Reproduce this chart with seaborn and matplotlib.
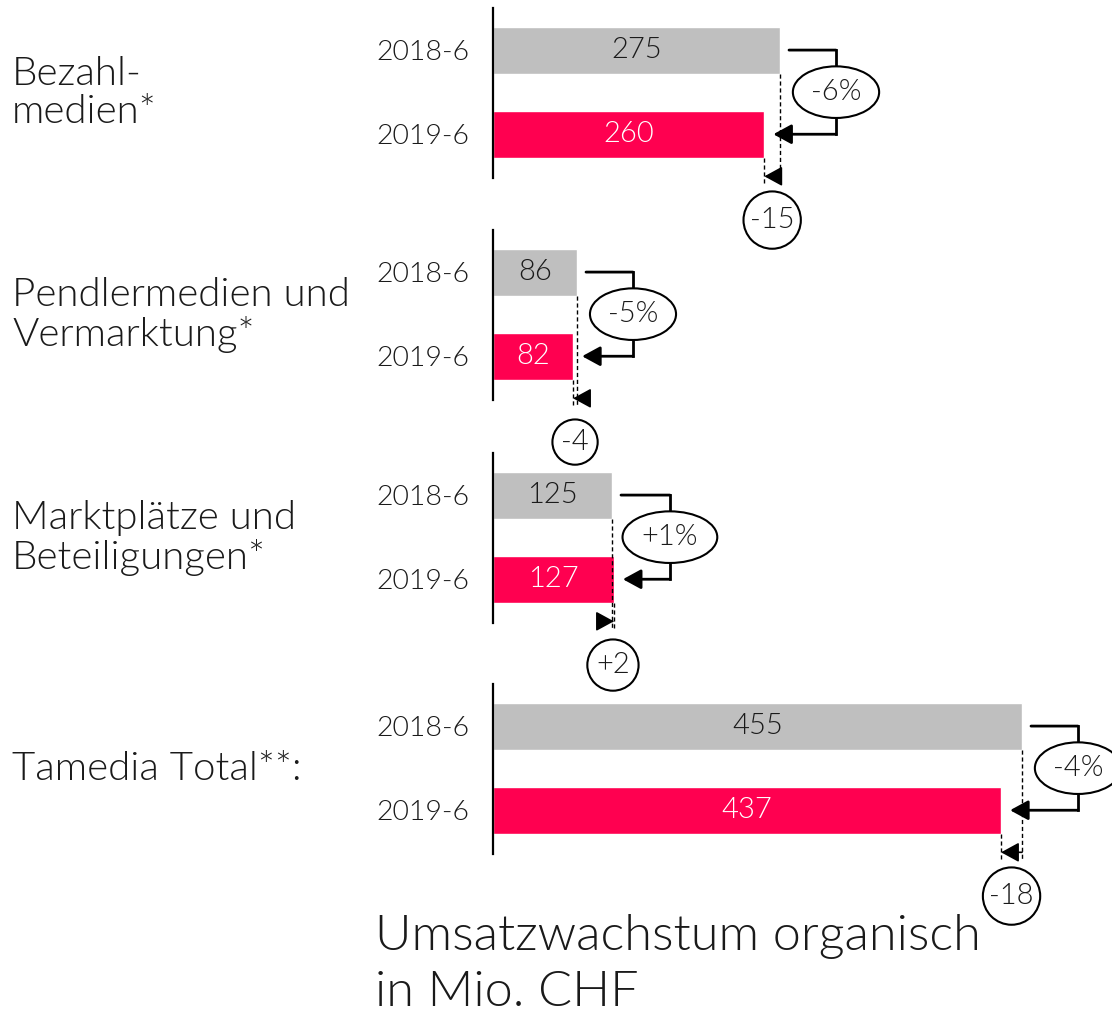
import matplotlib
matplotlib.use("Agg")
import matplotlib.pyplot as plt
from matplotlib.transforms import offset_copy
import seaborn as sns
import pandas as pd

# ---- data ----
groups = ["Bezahl-\nmedien*", "Pendlermedien und\nVermarktung*",
          "Marktplätze und\nBeteiligungen*", "Tamedia Total**:"]
periods = ["2018-6", "2019-6"]
values_2018 = [275, 86, 125, 455]
values_2019 = [260, 82, 127, 437]
pct_labels = ["-6%", "-5%", "+1%", "-4%"]
diff_labels = ["-15", "-4", "+2", "-18"]
title = "Umsatzwachstum organisch\nin Mio. CHF"

# ---- style ----
GRAY = "#BFBFBF"
RED = "#FF0050"
TXT = "#1a1a1a"
FW = 300
sns.set_style("white")
plt.rcParams["font.family"] = ["Lato", "DejaVu Sans"]
plt.rcParams["font.weight"] = FW

W, H = 1112, 1015
fig = plt.figure(figsize=(W / 100, H / 100), dpi=100)

axis_tops = [8, 230, 453, 684]
axis_h = 170
x0 = 493
px_per_unit = [287 / 275, 84 / 86, 119 / 125, 529 / 455]

for i in range(4):
    top = axis_tops[i]
    ax = fig.add_axes([x0 / W, 1 - (top + axis_h) / H, (W - x0) / W, axis_h / H])
    ax.set_facecolor("none")
    df = pd.DataFrame({"period": periods, "value": [values_2018[i], values_2019[i]]})
    sns.barplot(data=df, x="value", y="period", hue="period",
                palette=[GRAY, RED], width=0.56, saturation=1,
                legend=False, ax=ax)
    ax.set_xlim(0, (W - x0) / px_per_unit[i])
    ax.set_ylim(1.52, -0.5)
    ax.set_xlabel("")
    ax.set_ylabel("")
    ax.set_xticks([])
    for s in ["top", "right", "bottom"]:
        ax.spines[s].set_visible(False)
    ax.spines["left"].set_color("black")
    ax.spines["left"].set_linewidth(1.6)
    ax.tick_params(axis="y", length=0, pad=17, labelsize=20.5, labelcolor=TXT)
    for lab in ax.get_yticklabels():
        lab.set_fontweight(FW)

    g = values_2018[i]
    r = values_2019[i]
    # bar value labels
    ax.text(g / 2, 0, str(g), ha="center", va="center", fontsize=21,
            color=TXT, fontweight=FW)
    ax.text(r / 2, 1, str(r), ha="center", va="center", fontsize=21,
            color="white", fontweight=FW)

    # percentage bracket
    m = max(g, r)
    t9 = offset_copy(ax.transData, fig=fig, x=9, y=0, units="dots")
    t56 = offset_copy(ax.transData, fig=fig, x=56, y=0, units="dots")
    lw = 2.0
    ax.annotate("", xy=(m, 0), xycoords=t56, xytext=(g, 0), textcoords=t9,
                arrowprops=dict(arrowstyle="-", lw=lw, color="black",
                                shrinkA=0, shrinkB=0), annotation_clip=False)
    ax.plot([m, m], [0, 1], transform=t56, color="black", lw=lw,
            clip_on=False, solid_capstyle="projecting")
    ax.annotate("", xy=(r, 1), xycoords=t9, xytext=(m, 1), textcoords=t56,
                arrowprops=dict(arrowstyle="-|>,head_length=0.55,head_width=0.3",
                                lw=lw, color="black", shrinkA=0, shrinkB=0,
                                mutation_scale=20), annotation_clip=False)
    ax.text(m, 0.5, pct_labels[i], transform=t56, ha="center", va="center",
            fontsize=21, fontweight=FW, color=TXT,
            bbox=dict(boxstyle="ellipse,pad=0.18", fc="white", ec="black", lw=1.5),
            clip_on=False)

    # difference markers
    ax.plot([g, g], [0.28, 1.6], ls=(0, (3, 2)), color="black", lw=1.0, clip_on=False)
    ax.plot([r, r], [1.28, 1.6], ls=(0, (3, 2)), color="black", lw=1.0, clip_on=False)
    ax.annotate("", xy=(r, 1.5), xytext=(g, 1.5),
                arrowprops=dict(arrowstyle="-|>,head_length=0.55,head_width=0.3",
                                lw=1.2, color="black", shrinkA=0, shrinkB=0,
                                mutation_scale=20), annotation_clip=False)
    lab = diff_labels[i]
    box = "circle,pad=0.3" if len(lab) <= 2 else "circle,pad=0.22"
    ax.text((g + r) / 2, 2.02, lab, ha="center", va="center",
            fontsize=21, fontweight=FW, color=TXT,
            bbox=dict(boxstyle=box, fc="white", ec="black", lw=1.5),
            clip_on=False, zorder=5)

    # group label
    fig.text(12 / W, 1 - (top + axis_h / 2) / H, groups[i], ha="left", va="center",
             fontsize=29, fontweight=FW, color=TXT, linespacing=1.1)

fig.text(375 / W, 1 - 914 / H, title, ha="left", va="top", fontsize=36.3,
         fontweight=FW, color=TXT, linespacing=1.3)

fig.savefig("out.png", dpi=100, facecolor="white")
